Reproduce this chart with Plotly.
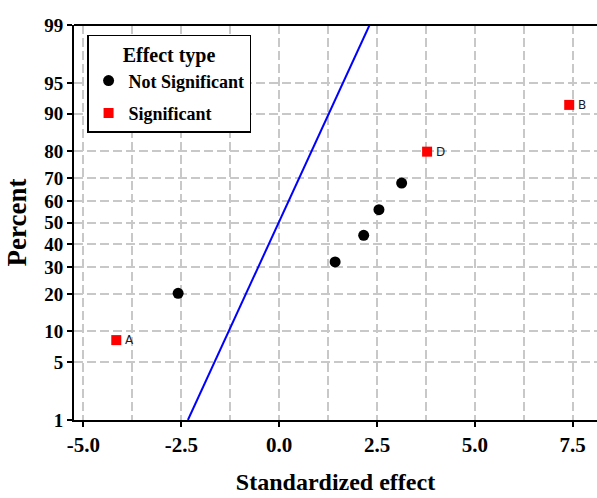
import plotly.graph_objects as go
from statistics import NormalDist

# ---- data ----
ns_effect = [-2.58, 1.43, 2.16, 2.55, 3.13]
ns_percent = [20.2, 32.1, 44.0, 56.0, 67.9]

sig_labels = ["A", "D", "B"]
sig_effect = [-4.16, 3.78, 7.41]
sig_percent = [8.3, 79.8, 91.7]

line_effect = [-2.33, 2.31]
line_percent = [1, 99]

y_tick_percent = [1, 5, 10, 20, 30, 40, 50, 60, 70, 80, 90, 95, 99]
x_tick_vals = [-5.0, -2.5, 0.0, 2.5, 5.0, 7.5]
x_range = [-5.24, 8.12]

nd = NormalDist()


def z(p):
    return nd.inv_cdf(p / 100.0)


SERIF = "Liberation Serif"
GRID = "#c8c8c8"

fig = go.Figure()

fig.add_trace(go.Scatter(
    x=line_effect, y=[z(p) for p in line_percent], mode="lines",
    line=dict(color="#0000ff", width=2), showlegend=False, hoverinfo="skip"))

fig.add_trace(go.Scatter(
    x=ns_effect, y=[z(p) for p in ns_percent], mode="markers",
    name="Not Significant", legendgroup="ns",
    marker=dict(symbol="circle", size=11, color="black")))

fig.add_trace(go.Scatter(
    x=sig_effect, y=[z(p) for p in sig_percent], mode="markers",
    name="Significant", legendgroup="sig",
    marker=dict(symbol="square", size=10, color="#ff0000")))

for lab, xe, pe in zip(sig_labels, sig_effect, sig_percent):
    fig.add_annotation(x=xe, y=z(pe), text=lab, showarrow=False,
                       xanchor="left", yanchor="middle", xshift=7,
                       font=dict(family="DejaVu Sans", size=12, color="#1a1a2a"))

fig.add_shape(type="line", xref="paper", yref="paper", x0=0, x1=1, y0=1, y1=1,
              line=dict(color="black", width=2))

fig.update_layout(
    width=597, height=498,
    margin=dict(l=74, r=0, t=25, b=78),
    plot_bgcolor="white", paper_bgcolor="white",
    font=dict(family=SERIF, color="black"),
    xaxis=dict(
        range=x_range, tickmode="array", tickvals=x_tick_vals,
        ticktext=[f"{v:.1f}" for v in x_tick_vals],
        tickfont=dict(family=SERIF, size=21, weight="bold", color="black"),
        ticks="outside", ticklen=5, tickwidth=1.5, tickcolor="black",
        showline=True, linecolor="black", linewidth=2,
        showgrid=True, gridcolor=GRID, gridwidth=1.5, griddash="9px,4px",
        minor=dict(tick0=-5, dtick=1.25, showgrid=True, gridcolor=GRID,
                   gridwidth=1.5, griddash="9px,4px"),
        zeroline=False,
        title=dict(text="Standardized effect", standoff=17,
                   font=dict(family=SERIF, size=24, weight="bold", color="black")),
    ),
    yaxis=dict(
        range=[z(1), z(99)], tickmode="array",
        tickvals=[z(p) for p in y_tick_percent],
        ticktext=[str(p) for p in y_tick_percent],
        tickfont=dict(family=SERIF, size=19, weight="bold", color="black"),
        ticks="outside", ticklen=5, tickwidth=1.5, tickcolor="black",
        showline=True, linecolor="black", linewidth=2,
        showgrid=True, gridcolor=GRID, gridwidth=1.5, griddash="9px,4px",
        zeroline=False,
        title=dict(text="Percent", standoff=10,
                   font=dict(family=SERIF, size=27, weight="bold", color="black")),
    ),
    legend=dict(
        x=0.025, y=0.975, xanchor="left", yanchor="top",
        bgcolor="white", bordercolor="black", borderwidth=1.5,
        font=dict(family=SERIF, size=18, weight="bold", color="black"),
        title=dict(text="Effect type", side="top center",
                   font=dict(family=SERIF, size=20, weight="bold", color="black")),
        tracegroupgap=6,
    ),
)

fig.write_html("out.html")
